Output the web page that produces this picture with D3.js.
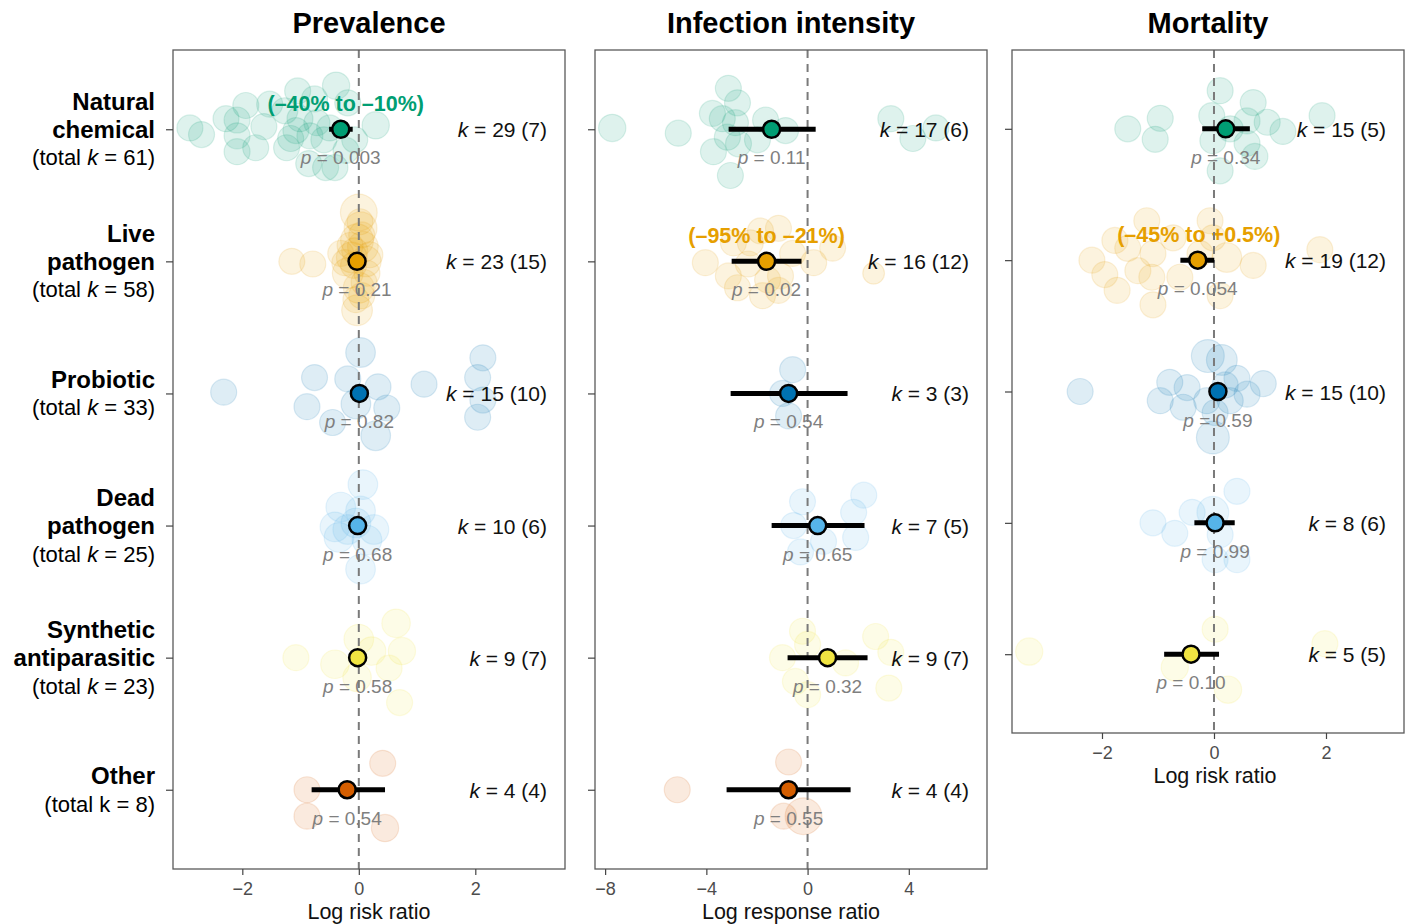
<!DOCTYPE html>
<html>
<head>
<meta charset="utf-8">
<script src="https://cdn.jsdelivr.net/npm/d3@7"></script>
<style>
  html, body { margin: 0; padding: 0; background: #fff; }
  svg { display: block; font-family: "Liberation Sans", Arial, Helvetica, sans-serif; }
</style>
</head>
<body>
<svg id="chart" width="1409" height="924"></svg>
<script>
// ---------------- DATA ----------------
const categories = ["Natural chemical", "Live pathogen", "Probiotic", "Dead pathogen", "Synthetic antiparasitic", "Other"];
const totalK = [61, 58, 33, 25, 23, 8];
const panelTitles = ["Prevalence", "Infection intensity", "Mortality"];
const axisTitles = ["Log risk ratio", "Log response ratio", "Log risk ratio"];
const tickValues1 = [-2, 0, 2];
const tickValues2 = [-8, -4, 0, 4];
const tickValues3 = [-2, 0, 2];

// Prevalence
const prevEstimate = [-0.31, -0.03, 0.01, -0.02, -0.02, -0.20];
const prevLower    = [-0.51, -0.12, -0.08, -0.10, -0.10, -0.81];
const prevUpper    = [-0.105, 0.05, 0.09, 0.06, 0.06, 0.45];
const prevP        = ["0.003", "0.21", "0.82", "0.68", "0.58", "0.54"];
const prevK        = [29, 23, 15, 10, 9, 4];
const prevStudies  = [7, 15, 10, 6, 7, 4];
const prevNote     = ["(\u201340% to \u201310%)", null, null, null, null, null];
// effect sizes: [value, vertical jitter (fraction of row), weight]
const prevEffects = [
  [[-2.90,-0.01,1],[-2.70,0.04,1],[-2.28,-0.08,1],[-2.09,-0.07,1],[-1.94,-0.18,1],[-2.09,0.05,1],[-2.09,0.17,1],
   [-1.77,0.14,1],[-1.63,-0.02,1],[-1.27,-0.14,1],[-1.05,-0.29,1],[-1.08,0.01,1],[-1.24,0.14,1],[-1.17,0.07,1],
   [-0.76,-0.23,1],[-0.39,-0.33,1.1],[-0.19,-0.20,1],[-0.72,-0.05,1],[-0.60,0.08,1],[-0.86,0.26,1],[-0.57,0.29,1],
   [-0.41,0.29,1],[-0.22,0.16,1],[0.29,-0.03,1.1],[-1.01,-0.08,1],[-0.50,-0.01,1],[-0.07,0.08,1],[-1.53,-0.19,1],[-0.84,0.05,1]],
  [[-1.15,0.00,1],[-0.79,0.02,1],[0.00,-0.37,2],[0.03,-0.25,1.6],[-0.03,-0.16,1.6],[0.07,-0.11,1.4],[-0.31,-0.06,1],
   [-0.12,-0.03,1.4],[0.12,0.00,1.4],[-0.19,0.09,1.4],[0.14,0.09,1],[0.00,0.20,1.4],[-0.05,0.29,1],[-0.03,0.37,1.4],
   [0.05,-0.20,1],[-0.09,0.03,1],[0.09,0.16,1],[-0.15,-0.12,1],[0.02,-0.30,1],[0.19,-0.05,1],[-0.24,0.01,1],
   [0.05,0.26,1],[-0.07,-0.08,1]],
  [[-2.32,-0.01,1],[-0.76,-0.12,1],[-0.89,0.10,1],[-0.45,0.22,1],[-0.19,-0.11,1],[0.03,-0.31,1.3],[0.33,-0.05,1],
   [-0.05,0.08,1.3],[0.48,0.11,1],[0.29,0.32,1.3],[1.12,-0.07,1],[2.13,-0.27,1],[2.04,-0.12,1],[2.13,0.05,1],[2.04,0.18,1]],
  [[0.07,-0.31,1.3],[-0.31,-0.14,1.3],[-0.41,0.01,1.3],[-0.34,0.09,1.3],[0.03,-0.11,1.3],[0.26,0.03,1.3],
   [0.14,0.11,1.3],[0.03,0.33,1.3],[-0.19,0.03,1.3],[-0.05,-0.02,1.3]],
  [[0.64,-0.26,1.2],[0.00,-0.14,1.3],[-1.08,0.00,1],[-0.41,0.05,1.2],[0.22,-0.05,1.2],[0.74,-0.05,1.1],
   [0.52,0.08,1],[-0.03,0.15,1.2],[0.70,0.34,1]],
  [[0.41,-0.20,1],[-0.89,0.00,1],[-0.89,0.20,1],[0.45,0.29,1.1]]
];

// Infection intensity
const intEstimate = [-1.42, -1.62, -0.75, 0.40, 0.79, -0.75];
const intLower    = [-3.12, -3.00, -3.04, -1.42, -0.79, -3.20];
const intUpper    = [0.32, -0.24, 1.58, 2.25, 2.37, 1.70];
const intP        = ["0.11", "0.02", "0.54", "0.65", "0.32", "0.55"];
const intK        = [17, 16, 3, 7, 9, 4];
const intStudies  = [6, 12, 3, 5, 7, 4];
const intNote     = [null, "(\u201395% to \u201321%)", null, null, null, null];
const intEffects = [
  [[-7.72,-0.01,1.1],[-5.11,0.03,1],[-3.13,-0.31,1],[-2.77,-0.20,1],[-3.76,-0.12,1],[-3.37,-0.08,1],[-2.85,-0.05,1],
   [-3.17,0.06,1],[-3.72,0.17,1],[-2.73,0.11,1],[-3.05,0.35,1],[-1.66,-0.07,1],[-1.98,0.08,1],[-0.87,0.01,1],
   [3.29,-0.08,1],[4.16,0.07,1],[5.07,-0.01,1]],
  [[-1.86,-0.23,1],[-1.15,-0.25,1],[-2.93,-0.14,1],[-4.04,0.01,1],[-3.13,0.11,1],[-2.34,0.02,1],[-2.77,0.20,1],
   [-1.78,0.26,1],[-1.15,0.22,1],[-1.07,0.11,1],[-0.59,-0.06,1],[0.24,0.01,1],[0.99,-0.10,1],[2.61,0.09,0.7],
   [-1.58,0.14,1],[-2.26,-0.14,1]],
  [[-0.59,-0.18,1],[-0.99,0.00,1],[-0.75,0.17,1]],
  [[-0.20,-0.18,1],[-0.55,0.00,1],[-0.28,0.20,1],[0.63,0.12,1],[2.22,-0.23,1],[1.82,-0.10,1],[1.90,0.09,1]],
  [[-0.20,-0.20,1],[2.69,-0.16,1],[0.00,-0.10,1],[-0.99,0.00,1],[1.50,0.04,1],[3.29,-0.04,1],[-0.48,0.18,1],
   [0.00,0.28,1],[3.21,0.23,1]],
  [[-0.75,-0.21,1],[-5.15,0.00,1],[-0.95,0.20,1],[-0.16,0.20,2]]
];

// Mortality
const morEstimate = [0.21, -0.29, 0.07, 0.02, -0.41];
const morLower    = [-0.21, -0.60, -0.03, -0.35, -0.89];
const morUpper    = [0.64, 0.005, 0.17, 0.37, 0.09];
const morP        = ["0.34", "0.054", "0.59", "0.99", "0.10"];
const morK        = [15, 19, 15, 8, 5];
const morStudies  = [5, 12, 10, 6, 5];
const morNote     = [null, "(\u201345% to +0.5%)", null, null, null];
const morEffects = [
  [[-1.54,0.00,1],[-0.96,-0.08,1],[-1.05,0.08,1],[0.11,-0.29,1],[-0.04,-0.10,1],[-0.02,0.09,1],[0.11,0.32,1],
   [0.70,-0.20,1],[0.59,-0.06,1],[0.95,-0.05,1],[1.23,0.02,1],[0.59,0.11,1],[0.73,0.21,1],[1.93,-0.10,1],[0.29,0.00,1]],
  [[-1.20,-0.30,1],[-0.07,-0.30,1],[-1.77,-0.15,1],[-1.54,-0.09,1],[-1.09,-0.05,1],[-0.73,-0.17,1],[-2.18,0.00,1],
   [-1.95,0.11,1],[-1.73,0.23,1],[-1.36,0.08,1],[-1.09,0.34,1],[-1.11,0.13,1],[-0.61,0.13,1],[0.23,-0.02,1.3],
   [0.11,0.27,1],[0.70,0.04,1],[1.89,-0.08,1],[-0.25,-0.05,1],[-0.02,-0.17,1]],
  [[-2.39,0.00,1],[-0.11,-0.27,1.6],[0.14,-0.24,1.4],[-0.79,-0.07,1],[-0.48,-0.03,1],[-0.96,0.07,1],[-0.55,0.12,1],
   [0.41,-0.10,1],[0.88,-0.06,1],[0.59,0.02,1],[-0.13,0.07,1],[0.29,0.07,1],[0.02,0.16,1],[-0.02,0.35,1.6],[0.20,-0.05,1]],
  [[0.41,-0.24,1],[-0.39,-0.08,1],[-0.02,-0.08,1.5],[-1.09,0.00,1],[-0.70,0.08,1],[0.11,0.09,1],[0.02,0.28,1],[0.41,0.28,1]],
  [[-3.30,-0.02,1.1],[0.02,-0.19,1],[1.98,-0.08,1],[-0.70,0.10,1.1],[0.25,0.27,1.1]]
];

// ---------------- STYLE / LAYOUT ----------------
const colors = ["#009E73", "#E69F00", "#0072B2", "#56B4E9", "#F0E442", "#D55E00"];
const TOP = 50, PW = 392;

const panels = [
  { title: panelTitles[0], xlabel: axisTitles[0], left: 173, bottom: 869, domain: [-3.19, 3.54], ticks: tickValues1,
    n: 6, est: prevEstimate, lo: prevLower, hi: prevUpper, p: prevP, k: prevK, s: prevStudies, note: prevNote, eff: prevEffects, noteShift: 5 },
  { title: panelTitles[1], xlabel: axisTitles[1], left: 595, bottom: 869, domain: [-8.4, 7.09], ticks: tickValues2,
    n: 6, est: intEstimate, lo: intLower, hi: intUpper, p: intP, k: intK, s: intStudies, note: intNote, eff: intEffects, noteShift: 0 },
  { title: panelTitles[2], xlabel: axisTitles[2], left: 1012, bottom: 733, domain: [-3.607, 3.393], ticks: tickValues3,
    n: 5, est: morEstimate, lo: morLower, hi: morUpper, p: morP, k: morK, s: morStudies, note: morNote, eff: morEffects, noteShift: 1 }
];

const svg = d3.select("#chart");
const rScale = d3.scaleSqrt().domain([0, 1]).range([0, 13]);

panels.forEach((cfg, pi) => {
  const cats = categories.slice(0, cfg.n);
  const x = d3.scaleLinear().domain(cfg.domain).range([cfg.left, cfg.left + PW]);
  const y = d3.scalePoint().domain(cats).range([TOP, cfg.bottom]).padding(0.6);
  const step = y.step();
  const g = svg.append("g");

  const clipId = "clip" + pi;
  svg.append("clipPath").attr("id", clipId).append("rect")
    .attr("x", cfg.left).attr("y", TOP).attr("width", PW).attr("height", cfg.bottom - TOP);

  // bubbles
  const bub = g.append("g").attr("clip-path", `url(#${clipId})`);
  cats.forEach((c, i) => {
    bub.selectAll(null).data(cfg.eff[i]).enter().append("circle")
      .attr("cx", d => x(d[0]))
      .attr("cy", d => y(c) + d[1] * step)
      .attr("r", d => rScale(d[2]))
      .attr("fill", colors[i]).attr("fill-opacity", 0.13)
      .attr("stroke", colors[i]).attr("stroke-opacity", 0.14).attr("stroke-width", 1.2);
  });

  // p labels
  cats.forEach((c, i) => {
    const t = g.append("text").attr("x", x(cfg.est[i])).attr("y", y(c) + 28)
      .attr("text-anchor", "middle").attr("dominant-baseline", "central")
      .attr("font-size", 19).attr("fill", "#7f7f7f");
    t.append("tspan").attr("font-style", "italic").text("p");
    t.append("tspan").text(" = " + cfg.p[i]);
  });

  // CI notes
  cats.forEach((c, i) => {
    if (!cfg.note[i]) return;
    g.append("text").attr("x", x(cfg.est[i]) + cfg.noteShift).attr("y", y(c) - 25)
      .attr("text-anchor", "middle").attr("dominant-baseline", "central")
      .attr("font-size", 21.5).attr("font-weight", "bold").attr("fill", colors[i])
      .text(cfg.note[i]);
  });

  // k labels
  cats.forEach((c, i) => {
    const t = g.append("text").attr("x", cfg.left + PW - 18).attr("y", y(c))
      .attr("text-anchor", "end").attr("dominant-baseline", "central")
      .attr("font-size", 21).attr("fill", "#111");
    t.append("tspan").attr("font-style", "italic").text("k");
    t.append("tspan").text(" = " + cfg.k[i] + " (" + cfg.s[i] + ")");
  });

  // zero line
  g.append("line").attr("x1", x(0)).attr("x2", x(0)).attr("y1", TOP).attr("y2", cfg.bottom)
    .attr("stroke", "#7a7a7a").attr("stroke-width", 2).attr("stroke-dasharray", "8,6");

  // CI bars
  cats.forEach((c, i) => {
    g.append("line").attr("x1", x(cfg.lo[i])).attr("x2", x(cfg.hi[i]))
      .attr("y1", y(c)).attr("y2", y(c)).attr("stroke", "#000").attr("stroke-width", 5);
  });
  // estimate points
  cats.forEach((c, i) => {
    g.append("circle").attr("cx", x(cfg.est[i])).attr("cy", y(c)).attr("r", 8.5)
      .attr("fill", colors[i]).attr("stroke", "#000").attr("stroke-width", 2.5);
  });

  // panel border
  g.append("rect").attr("x", cfg.left).attr("y", TOP).attr("width", PW).attr("height", cfg.bottom - TOP)
    .attr("fill", "none").attr("stroke", "#5a5a5a").attr("stroke-width", 1.3);

  // x axis
  const xa = g.append("g").attr("transform", `translate(0,${cfg.bottom})`)
    .call(d3.axisBottom(x).tickValues(cfg.ticks).tickSize(6).tickSizeOuter(0).tickFormat(d3.format("d")));
  xa.select(".domain").remove();
  xa.selectAll("line").attr("stroke", "#444").attr("stroke-width", 1.2);
  xa.selectAll("text").attr("font-size", 18).attr("fill", "#4d4d4d").attr("dy", "0.95em")
    .style("font-family", "Liberation Sans, Arial, sans-serif");

  // y axis ticks
  const ya = g.append("g").attr("transform", `translate(${cfg.left},0)`)
    .call(d3.axisLeft(y).tickSize(7).tickFormat(""));
  ya.select(".domain").remove();
  ya.selectAll("line").attr("stroke", "#444").attr("stroke-width", 1.2);

  // titles
  g.append("text").attr("x", cfg.left + PW / 2).attr("y", 23)
    .attr("text-anchor", "middle").attr("dominant-baseline", "central")
    .attr("font-size", 29).attr("font-weight", "bold").attr("fill", "#000").text(cfg.title);
  g.append("text").attr("x", cfg.left + PW / 2 + (pi === 2 ? 7 : 0)).attr("y", cfg.bottom + 43)
    .attr("text-anchor", "middle").attr("dominant-baseline", "central")
    .attr("font-size", 21.5).attr("fill", "#111").text(cfg.xlabel);

  // category labels (left of first panel only)
  if (pi === 0) {
    cats.forEach((c, i) => {
      const words = c.split(" ");
      const lines = words.length;
      const total = lines + 1;
      const yc = y(c);
      const start = yc - (total - 1) * 28 / 2;
      words.forEach((w, li) => {
        g.append("text").attr("x", 155).attr("y", start + li * 28)
          .attr("text-anchor", "end").attr("dominant-baseline", "central")
          .attr("font-size", 24).attr("font-weight", "bold").attr("fill", "#000").text(w);
      });
      const t = g.append("text").attr("x", 155).attr("y", start + lines * 28)
        .attr("text-anchor", "end").attr("dominant-baseline", "central")
        .attr("font-size", 22).attr("fill", "#000");
      t.append("tspan").text("(total ");
      t.append("tspan").attr("font-style", i < 5 ? "italic" : "normal").text("k");
      t.append("tspan").text(" = " + totalK[i] + ")");
    });
  }
});
</script>
</body>
</html>
